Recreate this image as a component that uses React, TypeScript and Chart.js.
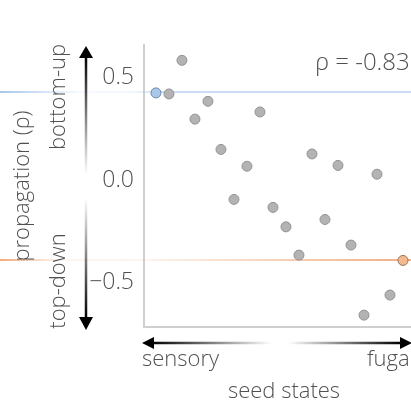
import React, { useEffect, useRef } from "react";
import { Chart, registerables } from "chart.js";

Chart.register(...registerables);

// ---- data ----
const seedIndex = [0, 1, 2, 3, 4, 5, 6, 7, 8, 9, 10, 11, 12, 13, 14, 15, 16, 17, 18, 19];
const propagation = [
  0.426, 0.421, 0.585, 0.298, 0.385, 0.15, -0.094, 0.068, 0.333, -0.133,
  -0.228, -0.366, 0.128, -0.192, 0.072, -0.317, -0.659, 0.029, -0.561, -0.392,
];
const yTickValues = [0.5, 0, -0.5];
const yTickLabels = ["0.5", "0.0", "\u22120.5"];
const refLineValues = [0.43, -0.39];
const rhoLabel = "\u03C1 = -0.83";
const yTitle = "propagation (\u03C1)";
const xTitle = "seed states";
const xLeftLabel = "sensory";
const xRightLabel = "fugal";
const upLabel = "bottom-up";
const downLabel = "top-down";

const FONT = '"Open Sans", "Liberation Sans", sans-serif';
const TEXT = "#505050";

const annotations = {
  id: "annotations",
  beforeDatasetsDraw(chart: any) {
    const { ctx, scales, width } = chart;
    const y = scales.y;
    ctx.save();
    ctx.lineWidth = 2;
    // blue line
    {
      const py = y.getPixelForValue(refLineValues[0]);
      const g = ctx.createLinearGradient(0, 0, width, 0);
      g.addColorStop(0, "rgba(150,188,230,0.85)");
      g.addColorStop(0.09, "rgba(150,188,230,0.45)");
      g.addColorStop(0.18, "rgba(150,188,230,0.08)");
      g.addColorStop(0.31, "rgba(150,188,230,0.12)");
      g.addColorStop(0.38, "rgba(150,188,230,0.5)");
      g.addColorStop(1, "rgba(150,188,230,0.5)");
      ctx.strokeStyle = g;
      ctx.beginPath();
      ctx.moveTo(0, py);
      ctx.lineTo(width, py);
      ctx.stroke();
    }
    // orange line
    {
      const py = y.getPixelForValue(refLineValues[1]);
      const g = ctx.createLinearGradient(0, 0, width, 0);
      g.addColorStop(0, "rgba(240,160,110,0.9)");
      g.addColorStop(0.06, "rgba(240,160,110,0.55)");
      g.addColorStop(0.14, "rgba(240,160,110,0.1)");
      g.addColorStop(0.34, "rgba(240,160,110,0.12)");
      g.addColorStop(0.95, "rgba(240,160,110,0.85)");
      g.addColorStop(1, "rgba(240,160,110,0.85)");
      ctx.strokeStyle = g;
      ctx.beginPath();
      ctx.moveTo(0, py);
      ctx.lineTo(width, py);
      ctx.stroke();
    }
    ctx.restore();
  },
  afterDraw(chart: any) {
    const { ctx } = chart;
    ctx.save();
    const lw = 2.5;
    // vertical up arrow
    const ax = 86;
    {
      const g = ctx.createLinearGradient(0, 56, 0, 175);
      g.addColorStop(0, "rgba(0,0,0,1)");
      g.addColorStop(1, "rgba(0,0,0,0)");
      ctx.strokeStyle = g;
      ctx.lineWidth = lw;
      ctx.beginPath();
      ctx.moveTo(ax, 56);
      ctx.lineTo(ax, 175);
      ctx.stroke();
      ctx.fillStyle = "#000";
      ctx.beginPath();
      ctx.moveTo(ax, 46);
      ctx.lineTo(ax - 7, 58);
      ctx.lineTo(ax + 7, 58);
      ctx.closePath();
      ctx.fill();
    }
    // vertical down arrow
    {
      const g = ctx.createLinearGradient(0, 198, 0, 318);
      g.addColorStop(0, "rgba(0,0,0,0)");
      g.addColorStop(1, "rgba(0,0,0,1)");
      ctx.strokeStyle = g;
      ctx.lineWidth = lw;
      ctx.beginPath();
      ctx.moveTo(ax, 198);
      ctx.lineTo(ax, 318);
      ctx.stroke();
      ctx.fillStyle = "#000";
      ctx.beginPath();
      ctx.moveTo(ax, 330);
      ctx.lineTo(ax - 7, 317);
      ctx.lineTo(ax + 7, 317);
      ctx.closePath();
      ctx.fill();
    }
    // horizontal arrows
    const hy = 343;
    {
      const g = ctx.createLinearGradient(152, 0, 272, 0);
      g.addColorStop(0, "rgba(0,0,0,1)");
      g.addColorStop(1, "rgba(0,0,0,0)");
      ctx.strokeStyle = g;
      ctx.lineWidth = lw;
      ctx.beginPath();
      ctx.moveTo(152, hy);
      ctx.lineTo(272, hy);
      ctx.stroke();
      ctx.fillStyle = "#000";
      ctx.beginPath();
      ctx.moveTo(142, hy);
      ctx.lineTo(154, hy - 6);
      ctx.lineTo(154, hy + 6);
      ctx.closePath();
      ctx.fill();
    }
    {
      const g = ctx.createLinearGradient(288, 0, 400, 0);
      g.addColorStop(0, "rgba(0,0,0,0)");
      g.addColorStop(1, "rgba(0,0,0,1)");
      ctx.strokeStyle = g;
      ctx.lineWidth = lw;
      ctx.beginPath();
      ctx.moveTo(288, hy);
      ctx.lineTo(402, hy);
      ctx.stroke();
      ctx.fillStyle = "#000";
      ctx.beginPath();
      ctx.moveTo(412, hy);
      ctx.lineTo(400, hy - 6);
      ctx.lineTo(400, hy + 6);
      ctx.closePath();
      ctx.fill();
    }
    // texts
    ctx.fillStyle = TEXT;
    ctx.font = `300 22px ${FONT}`;
    ctx.textBaseline = "middle";
    ctx.textAlign = "center";
    const rot = (text: string, x: number, y: number) => {
      ctx.save();
      ctx.translate(x, y);
      ctx.rotate(-Math.PI / 2);
      ctx.fillText(text, 0, 0);
      ctx.restore();
    };
    rot(yTitle, 23, 186);
    rot(upLabel, 59, 97);
    rot(downLabel, 59, 281);
    ctx.textBaseline = "alphabetic";
    ctx.textAlign = "left";
    ctx.fillText(xLeftLabel, 142, 366);
    ctx.fillText(xRightLabel, 367, 366);
    ctx.textAlign = "center";
    ctx.fillText(xTitle, 284, 398);
    ctx.textAlign = "left";
    ctx.font = `300 24px ${FONT}`;
    ctx.fillText(rhoLabel, 315, 70);
    ctx.restore();
  },
};

export default function App() {
  const ref = useRef<HTMLCanvasElement>(null);
  useEffect(() => {
    const canvas = ref.current!;
    const colors = propagation.map((_, i) =>
      i === 0 ? "#a9c8ec" : i === propagation.length - 1 ? "#f4b98f" : "#b3b3b3"
    );
    const borders = propagation.map((_, i) =>
      i === 0 ? "#6f88a8" : i === propagation.length - 1 ? "#9a7358" : "#939393"
    );
    const chart = new Chart(canvas, {
      type: "scatter",
      data: {
        datasets: [
          {
            data: seedIndex.map((x, i) => ({ x, y: propagation[i] })),
            pointBackgroundColor: colors,
            pointBorderColor: borders,
            pointBorderWidth: 1,
            pointRadius: 5,
          },
        ],
      },
      options: {
        responsive: false,
        animation: false,
        layout: { padding: { top: 45, right: 14, left: 0, bottom: 0 } },
        plugins: { legend: { display: false }, tooltip: { enabled: false } },
        scales: {
          x: {
            type: "linear",
            min: -0.92,
            max: 20,
            grid: { display: false },
            border: { display: true, color: "#cfcfcf", width: 2 },
            ticks: { display: false },
            afterFit: (s: any) => {
              s.height = 75;
            },
          },
          y: {
            type: "linear",
            min: -0.717,
            max: 0.66,
            grid: { display: false },
            border: { display: true, color: "#cfcfcf", width: 2 },
            afterBuildTicks: (s: any) => {
              s.ticks = yTickValues.map((v) => ({ value: v }));
            },
            ticks: {
              padding: 2,
              color: TEXT,
              font: { family: FONT, size: 23, weight: "300" as any },
              callback: (v: any) => {
                const idx = yTickValues.indexOf(Number(v));
                return idx >= 0 ? yTickLabels[idx] : "";
              },
            },
            afterFit: (s: any) => {
              s.width = 144;
            },
          },
        },
      },
      plugins: [annotations],
    });
    return () => chart.destroy();
  }, []);
  return (
    <div
      style={{
        position: "fixed",
        left: 0,
        top: 0,
        width: 411,
        height: 402,
        overflow: "hidden",
        background: "#fff",
      }}
    >
      <canvas ref={ref} width={430} height={402} style={{ width: 430, height: 402 }} />
    </div>
  );
}
